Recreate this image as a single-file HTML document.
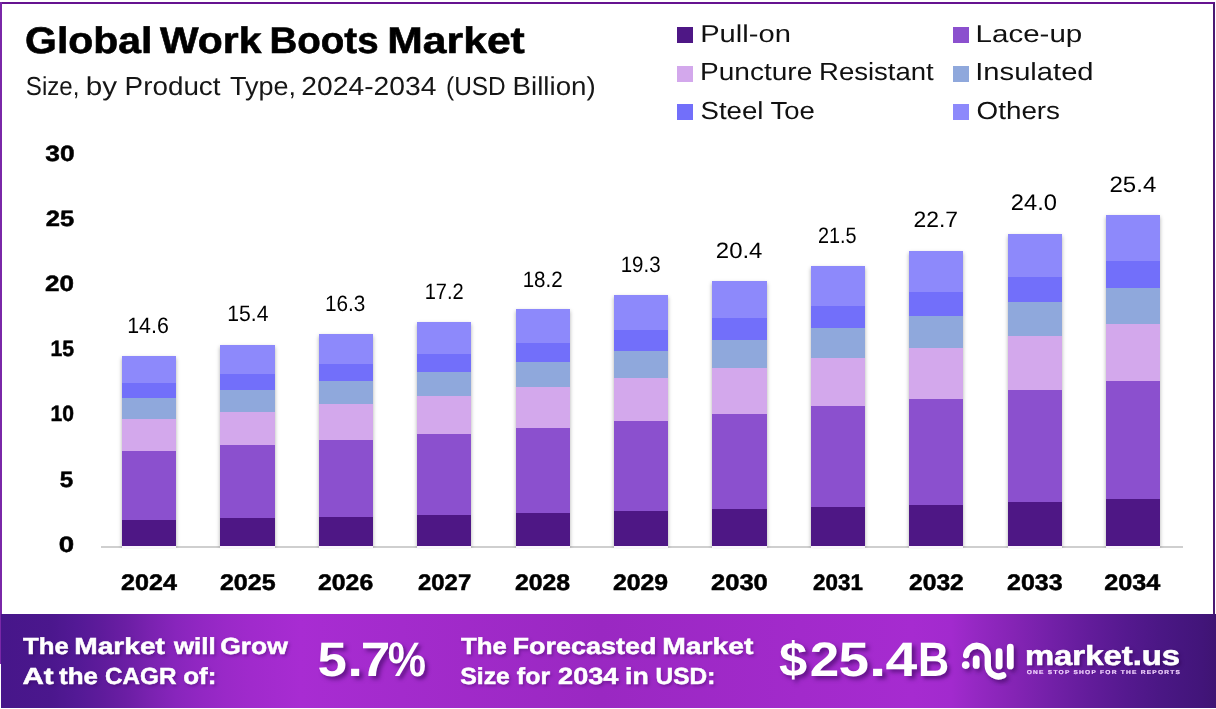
<!DOCTYPE html><html lang="en"><head><meta charset="utf-8"><title>Global Work Boots Market</title><style>
html,body,h1,p{margin:0;padding:0}
h1,p{font-size:inherit;font-weight:inherit}
body{width:1216px;height:709px;position:relative;overflow:hidden;background:#fff;font-family:"Liberation Sans", Arial, sans-serif;}
.t{position:absolute;left:0;top:0;white-space:pre;text-rendering:geometricPrecision;line-height:1;transform-origin:0 0;font-weight:400;}
.p{display:inline-block;width:0;height:0}
.frame{position:absolute;left:0;top:2px;width:1215px;height:612px;box-sizing:border-box;border:2px solid #651390;border-left-color:#7a27a8;border-right-color:#4b1a72;border-bottom:0}
.lb{position:absolute;left:0;top:2px;width:2px;height:662px;background:#7a27a8}
.sw{position:absolute;width:16px;height:16px}
.bar{position:absolute;box-shadow:0 2px 4px rgba(0,0,0,.32);clip-path:inset(-8px -8px -2px -8px)}
.bar:after{content:"";position:absolute;left:0;right:0;top:100%;height:2px;background:#fbf4fd}
.bar div{position:absolute;left:0;width:100%}
.axis{position:absolute;left:100.5px;top:546px;width:1082px;height:1.5px;background:#cfcfcf}
.footer{position:absolute;left:1px;top:614px;width:1215px;height:93.5px;background:linear-gradient(90deg,#47168a 0.0%,#4b178d 4.1%,#531995 6.2%,#5e1b9b 8.2%,#6b1ea4 10.3%,#7a22b0 12.3%,#8825bc 14.4%,#9227c3 16.5%,#9a29c8 18.5%,#a02acc 20.6%,#a82cd2 24.7%,#a32bcc 33.0%,#9a28c2 49.4%,#a22acb 65.8%,#a62bd0 75.0%,#a22ace 78.2%,#9528c3 80.2%,#8524b5 83.3%,#7320a8 86.4%,#631c9b 89.5%,#55198f 92.6%,#4a1784 95.6%,#42157a 98.8%,#3f1473 100.0%)}

</style></head><body>
<div class="frame"></div><div class="lb"></div>
<header>
<h1><span class="t" id="t0" style="font-size:37.04px;transform:translate(25.08px,21.70px) scaleX(1.1045);color:#000;font-weight:700;-webkit-text-stroke:0.59px;">Global</span> <span class="t" id="t1" style="font-size:37.04px;transform:translate(160.01px,21.70px) scaleX(1.1037);color:#000;font-weight:700;-webkit-text-stroke:0.59px;">Work</span> <span class="t" id="t2" style="font-size:37.04px;transform:translate(269.50px,21.70px) scaleX(1.0400);color:#000;font-weight:700;-webkit-text-stroke:0.59px;">Boots</span> <span class="t" id="t3" style="font-size:37.04px;transform:translate(387.27px,21.70px) scaleX(1.1522);color:#000;font-weight:700;-webkit-text-stroke:0.59px;">Market</span></h1>
<p><span class="t" id="t4" style="font-size:26.02px;transform:translate(25.84px,72.90px) scaleX(0.9273);color:#161616;">Size,</span> <span class="t" id="t5" style="font-size:26.02px;transform:translate(85.78px,72.90px) scaleX(1.1399);color:#161616;">by</span> <span class="t" id="t6" style="font-size:26.02px;transform:translate(124.60px,72.90px) scaleX(1.0696);color:#161616;">Product</span> <span class="t" id="t7" style="font-size:26.02px;transform:translate(229.97px,72.90px) scaleX(1.0384);color:#161616;">Type,</span> <span class="t" id="t8" style="font-size:26.02px;transform:translate(301.37px,72.90px) scaleX(1.0848);color:#161616;">2024-2034</span> <span class="t" id="t9" style="font-size:26.02px;transform:translate(446.04px,72.90px) scaleX(0.9393);color:#161616;">(USD</span> <span class="t" id="t10" style="font-size:26.02px;transform:translate(512.56px,72.90px) scaleX(1.0651);color:#161616;">Billion)</span></p>
</header>
<div class="legend">
<div class="li"><i class="sw" style="left:677px;top:27px;background:#4e1785"></i><span class="t" id="t11" style="font-size:24.42px;transform:translate(700.19px,22.80px) scaleX(1.1937);color:#111;">Pull-on</span></div>
<div class="li"><i class="sw" style="left:953px;top:27px;background:#8b50ce"></i><span class="t" id="t16" style="font-size:24.42px;transform:translate(975.59px,22.80px) scaleX(1.2097);color:#111;">Lace-up</span></div>
<div class="li"><i class="sw" style="left:677px;top:65.7px;background:#d3a8ec"></i><span class="t" id="t12" style="font-size:24.71px;transform:translate(700.00px,61.00px) scaleX(1.1351);color:#111;">Puncture</span> <span class="t" id="t13" style="font-size:24.71px;transform:translate(819.06px,61.00px) scaleX(1.1139);color:#111;">Resistant</span></div>
<div class="li"><i class="sw" style="left:953px;top:65.7px;background:#8fa8dc"></i><span class="t" id="t17" style="font-size:24.71px;transform:translate(975.24px,61.00px) scaleX(1.1801);color:#111;">Insulated</span></div>
<div class="li"><i class="sw" style="left:677px;top:103.7px;background:#726ffa"></i><span class="t" id="t14" style="font-size:24.71px;transform:translate(700.48px,99.80px) scaleX(1.1168);color:#111;">Steel</span> <span class="t" id="t15" style="font-size:24.71px;transform:translate(770.40px,99.80px) scaleX(1.1132);color:#111;">Toe</span></div>
<div class="li"><i class="sw" style="left:953px;top:103.7px;background:#8d89fb"></i><span class="t" id="t18" style="font-size:24.71px;transform:translate(976.57px,99.80px) scaleX(1.1254);color:#111;">Others</span></div>
</div>
<div class="chart">
<div class="yaxis"><span class="t" id="t19" style="font-size:22.19px;transform:translate(45.24px,142.64px) scaleX(1.1869);color:#000;font-weight:700;-webkit-text-stroke:0.49px;">30</span> <span class="t" id="t20" style="font-size:22.19px;transform:translate(45.69px,207.84px) scaleX(1.1513);color:#000;font-weight:700;-webkit-text-stroke:0.49px;">25</span> <span class="t" id="t21" style="font-size:22.19px;transform:translate(45.10px,273.04px) scaleX(1.1740);color:#000;font-weight:700;-webkit-text-stroke:0.49px;">20</span> <span class="t" id="t22" style="font-size:22.19px;transform:translate(50.57px,338.24px) scaleX(0.9549);color:#000;font-weight:700;-webkit-text-stroke:0.49px;">15</span> <span class="t" id="t23" style="font-size:22.19px;transform:translate(50.50px,403.44px) scaleX(0.9512);color:#000;font-weight:700;-webkit-text-stroke:0.49px;">10</span> <span class="t" id="t24" style="font-size:22.19px;transform:translate(59.68px,468.64px) scaleX(1.0884);color:#000;font-weight:700;-webkit-text-stroke:0.49px;">5</span> <span class="t" id="t25" style="font-size:22.19px;transform:translate(58.82px,533.84px) scaleX(1.2479);color:#000;font-weight:700;-webkit-text-stroke:0.49px;">0</span></div>
<div class="axis"></div>
<div class="col">
<span class="t" id="t26" style="font-size:22.32px;transform:translate(127.21px,314.58px) scaleX(0.9574);color:#000;">14.6</span>
<div class="bar" style="left:122.00px;top:355.80px;width:54.3px;height:190.40px">
<div style="bottom:0.00px;height:26.67px;background:#4e1785"></div>
<div style="bottom:26.27px;height:69.68px;background:#8b50ce"></div>
<div style="bottom:95.55px;height:32.09px;background:#d3a8ec"></div>
<div style="bottom:127.25px;height:21.55px;background:#8fa8dc"></div>
<div style="bottom:148.40px;height:15.64px;background:#726ffa"></div>
<div style="bottom:163.63px;height:26.77px;background:#8d89fb"></div>
</div>
<span class="t" id="t37" style="font-size:22.60px;transform:translate(121.05px,571.73px) scaleX(1.1115);color:#000;font-weight:700;-webkit-text-stroke:0.50px;">2024</span>
</div>
<div class="col">
<span class="t" id="t27" style="font-size:22.32px;transform:translate(227.32px,303.38px) scaleX(0.9465);color:#000;">15.4</span>
<div class="bar" style="left:220.40px;top:345.30px;width:54.3px;height:200.90px">
<div style="bottom:0.00px;height:28.17px;background:#4e1785"></div>
<div style="bottom:27.77px;height:73.33px;background:#8b50ce"></div>
<div style="bottom:100.71px;height:34.07px;background:#d3a8ec"></div>
<div style="bottom:134.38px;height:22.57px;background:#8fa8dc"></div>
<div style="bottom:156.55px;height:16.47px;background:#726ffa"></div>
<div style="bottom:172.63px;height:28.27px;background:#8d89fb"></div>
</div>
<span class="t" id="t38" style="font-size:22.60px;transform:translate(219.96px,571.73px) scaleX(1.1068);color:#000;font-weight:700;-webkit-text-stroke:0.50px;">2025</span>
</div>
<div class="col">
<span class="t" id="t28" style="font-size:22.18px;transform:translate(324.92px,292.78px) scaleX(0.9348);color:#000;">16.3</span>
<div class="bar" style="left:318.80px;top:334.00px;width:54.3px;height:212.20px">
<div style="bottom:0.00px;height:29.79px;background:#4e1785"></div>
<div style="bottom:29.39px;height:77.26px;background:#8b50ce"></div>
<div style="bottom:106.25px;height:36.22px;background:#d3a8ec"></div>
<div style="bottom:142.06px;height:23.66px;background:#8fa8dc"></div>
<div style="bottom:165.32px;height:17.38px;background:#726ffa"></div>
<div style="bottom:182.30px;height:29.90px;background:#8d89fb"></div>
</div>
<span class="t" id="t39" style="font-size:22.60px;transform:translate(318.05px,571.73px) scaleX(1.0968);color:#000;font-weight:700;-webkit-text-stroke:0.50px;">2026</span>
</div>
<div class="col">
<span class="t" id="t29" style="font-size:22.32px;transform:translate(424.72px,280.98px) scaleX(0.8978);color:#000;">17.2</span>
<div class="bar" style="left:417.20px;top:322.20px;width:54.3px;height:224.00px">
<div style="bottom:0.00px;height:31.48px;background:#4e1785"></div>
<div style="bottom:31.08px;height:81.34px;background:#8b50ce"></div>
<div style="bottom:112.02px;height:38.47px;background:#d3a8ec"></div>
<div style="bottom:150.09px;height:24.79px;background:#8fa8dc"></div>
<div style="bottom:174.48px;height:18.32px;background:#726ffa"></div>
<div style="bottom:192.40px;height:31.60px;background:#8d89fb"></div>
</div>
<span class="t" id="t40" style="font-size:22.60px;transform:translate(418.03px,571.73px) scaleX(1.0571);color:#000;font-weight:700;-webkit-text-stroke:0.50px;">2027</span>
</div>
<div class="col">
<span class="t" id="t30" style="font-size:22.32px;transform:translate(522.64px,268.58px) scaleX(0.9205);color:#000;">18.2</span>
<div class="bar" style="left:515.60px;top:309.20px;width:54.3px;height:237.00px">
<div style="bottom:0.00px;height:33.35px;background:#4e1785"></div>
<div style="bottom:32.95px;height:85.84px;background:#8b50ce"></div>
<div style="bottom:118.39px;height:40.96px;background:#d3a8ec"></div>
<div style="bottom:158.94px;height:26.03px;background:#8fa8dc"></div>
<div style="bottom:184.57px;height:19.36px;background:#726ffa"></div>
<div style="bottom:203.53px;height:33.47px;background:#8d89fb"></div>
</div>
<span class="t" id="t41" style="font-size:22.60px;transform:translate(514.93px,571.73px) scaleX(1.0980);color:#000;font-weight:700;-webkit-text-stroke:0.50px;">2028</span>
</div>
<div class="col">
<span class="t" id="t31" style="font-size:22.32px;transform:translate(620.71px,254.18px) scaleX(0.9164);color:#000;">19.3</span>
<div class="bar" style="left:614.00px;top:294.90px;width:54.3px;height:251.30px">
<div style="bottom:0.00px;height:35.40px;background:#4e1785"></div>
<div style="bottom:35.00px;height:90.78px;background:#8b50ce"></div>
<div style="bottom:125.39px;height:43.69px;background:#d3a8ec"></div>
<div style="bottom:168.68px;height:27.39px;background:#8fa8dc"></div>
<div style="bottom:195.67px;height:20.50px;background:#726ffa"></div>
<div style="bottom:215.77px;height:35.53px;background:#8d89fb"></div>
</div>
<span class="t" id="t42" style="font-size:22.60px;transform:translate(612.97px,571.73px) scaleX(1.0969);color:#000;font-weight:700;-webkit-text-stroke:0.50px;">2029</span>
</div>
<div class="col">
<span class="t" id="t32" style="font-size:22.18px;transform:translate(715.83px,240.28px) scaleX(1.0799);color:#000;">20.4</span>
<div class="bar" style="left:712.40px;top:280.90px;width:54.3px;height:265.30px">
<div style="bottom:0.00px;height:37.45px;background:#4e1785"></div>
<div style="bottom:37.05px;height:95.78px;background:#8b50ce"></div>
<div style="bottom:132.42px;height:46.07px;background:#d3a8ec"></div>
<div style="bottom:178.09px;height:28.98px;background:#8fa8dc"></div>
<div style="bottom:206.67px;height:21.69px;background:#726ffa"></div>
<div style="bottom:227.97px;height:37.33px;background:#8d89fb"></div>
</div>
<span class="t" id="t43" style="font-size:22.60px;transform:translate(710.99px,571.73px) scaleX(1.1303);color:#000;font-weight:700;-webkit-text-stroke:0.50px;">2030</span>
</div>
<div class="col">
<span class="t" id="t33" style="font-size:22.32px;transform:translate(818.04px,225.18px) scaleX(0.8881);color:#000;">21.5</span>
<div class="bar" style="left:810.80px;top:266.40px;width:54.3px;height:279.80px">
<div style="bottom:0.00px;height:39.57px;background:#4e1785"></div>
<div style="bottom:39.17px;height:100.94px;background:#8b50ce"></div>
<div style="bottom:139.72px;height:48.53px;background:#d3a8ec"></div>
<div style="bottom:187.84px;height:30.64px;background:#8fa8dc"></div>
<div style="bottom:218.08px;height:22.93px;background:#726ffa"></div>
<div style="bottom:240.61px;height:39.19px;background:#8d89fb"></div>
</div>
<span class="t" id="t44" style="font-size:22.60px;transform:translate(813.07px,571.73px) scaleX(0.9907);color:#000;font-weight:700;-webkit-text-stroke:0.50px;">2031</span>
</div>
<div class="col">
<span class="t" id="t34" style="font-size:22.32px;transform:translate(913.48px,208.78px) scaleX(1.0255);color:#000;">22.7</span>
<div class="bar" style="left:909.20px;top:250.70px;width:54.3px;height:295.50px">
<div style="bottom:0.00px;height:41.88px;background:#4e1785"></div>
<div style="bottom:41.48px;height:106.54px;background:#8b50ce"></div>
<div style="bottom:147.62px;height:51.19px;background:#d3a8ec"></div>
<div style="bottom:198.40px;height:32.43px;background:#8fa8dc"></div>
<div style="bottom:230.44px;height:24.27px;background:#726ffa"></div>
<div style="bottom:254.31px;height:41.19px;background:#8d89fb"></div>
</div>
<span class="t" id="t45" style="font-size:22.60px;transform:translate(909.05px,571.73px) scaleX(1.0896);color:#000;font-weight:700;-webkit-text-stroke:0.50px;">2032</span>
</div>
<div class="col">
<span class="t" id="t35" style="font-size:22.46px;transform:translate(1010.85px,191.68px) scaleX(1.0560);color:#000;">24.0</span>
<div class="bar" style="left:1007.60px;top:233.60px;width:54.3px;height:312.60px">
<div style="bottom:0.00px;height:44.39px;background:#4e1785"></div>
<div style="bottom:43.99px;height:112.63px;background:#8b50ce"></div>
<div style="bottom:156.22px;height:54.08px;background:#d3a8ec"></div>
<div style="bottom:209.90px;height:34.39px;background:#8fa8dc"></div>
<div style="bottom:243.90px;height:25.73px;background:#726ffa"></div>
<div style="bottom:269.23px;height:43.37px;background:#8d89fb"></div>
</div>
<span class="t" id="t46" style="font-size:22.60px;transform:translate(1007.12px,571.73px) scaleX(1.1040);color:#000;font-weight:700;-webkit-text-stroke:0.50px;">2033</span>
</div>
<div class="col">
<span class="t" id="t36" style="font-size:22.32px;transform:translate(1109.48px,173.88px) scaleX(1.0778);color:#000;">25.4</span>
<div class="bar" style="left:1106.00px;top:215.10px;width:54.3px;height:331.10px">
<div style="bottom:0.00px;height:47.11px;background:#4e1785"></div>
<div style="bottom:46.71px;height:119.22px;background:#8b50ce"></div>
<div style="bottom:165.53px;height:57.21px;background:#d3a8ec"></div>
<div style="bottom:222.34px;height:36.52px;background:#8fa8dc"></div>
<div style="bottom:258.46px;height:27.32px;background:#726ffa"></div>
<div style="bottom:285.38px;height:45.72px;background:#8d89fb"></div>
</div>
<span class="t" id="t47" style="font-size:22.60px;transform:translate(1104.22px,571.73px) scaleX(1.1161);color:#000;font-weight:700;-webkit-text-stroke:0.50px;">2034</span>
</div>
</div>
<footer>
<div class="footer"></div>
<p><span class="t" id="t48" style="font-size:23.24px;transform:translate(22.98px,635.25px) scaleX(1.1075);color:#fff;font-weight:700;-webkit-text-stroke:0.51px;text-shadow:1.5px 1.5px 3px rgba(45,0,80,.4);">The</span> <span class="t" id="t49" style="font-size:23.24px;transform:translate(74.21px,635.25px) scaleX(1.2122);color:#fff;font-weight:700;-webkit-text-stroke:0.51px;text-shadow:1.5px 1.5px 3px rgba(45,0,80,.4);">Market</span> <span class="t" id="t50" style="font-size:23.24px;transform:translate(173.89px,635.25px) scaleX(1.1141);color:#fff;font-weight:700;-webkit-text-stroke:0.51px;text-shadow:1.5px 1.5px 3px rgba(45,0,80,.4);">will</span> <span class="t" id="t51" style="font-size:23.24px;transform:translate(220.15px,635.25px) scaleX(1.1396);color:#fff;font-weight:700;-webkit-text-stroke:0.51px;text-shadow:1.5px 1.5px 3px rgba(45,0,80,.4);">Grow</span> <span class="t" id="t52" style="font-size:23.24px;transform:translate(22.41px,665.25px) scaleX(1.2757);color:#fff;font-weight:700;-webkit-text-stroke:0.51px;text-shadow:1.5px 1.5px 3px rgba(45,0,80,.4);">At</span> <span class="t" id="t53" style="font-size:23.24px;transform:translate(58.98px,665.25px) scaleX(1.1179);color:#fff;font-weight:700;-webkit-text-stroke:0.51px;text-shadow:1.5px 1.5px 3px rgba(45,0,80,.4);">the</span> <span class="t" id="t54" style="font-size:23.24px;transform:translate(105.08px,665.25px) scaleX(1.0424);color:#fff;font-weight:700;-webkit-text-stroke:0.51px;text-shadow:1.5px 1.5px 3px rgba(45,0,80,.4);">CAGR</span> <span class="t" id="t55" style="font-size:23.24px;transform:translate(183.17px,665.25px) scaleX(1.1206);color:#fff;font-weight:700;-webkit-text-stroke:0.51px;text-shadow:1.5px 1.5px 3px rgba(45,0,80,.4);">of:</span></p>
<div class="big"><span class="t" id="t64" style="font-size:48.36px;transform:translate(317.54px,636.30px) scaleX(1.0908);color:#fff;font-weight:700;text-shadow:3px 3px 4px rgba(45,0,80,.55);">5</span><span class="t" id="t65" style="font-size:48.36px;transform:translate(347.14px,636.30px) scaleX(1.1763);color:#fff;font-weight:700;text-shadow:3px 3px 4px rgba(45,0,80,.55);">.</span><span class="t" id="t66" style="font-size:48.36px;transform:translate(360.70px,636.30px) scaleX(1.1012);color:#fff;font-weight:700;text-shadow:3px 3px 4px rgba(45,0,80,.55);">7</span><span class="t" id="t67" style="font-size:48.36px;transform:translate(387.82px,636.30px) scaleX(0.8911);color:#fff;font-weight:700;text-shadow:3px 3px 4px rgba(45,0,80,.55);">%</span></div>
<p><span class="t" id="t56" style="font-size:23.24px;transform:translate(460.95px,635.25px) scaleX(1.1102);color:#fff;font-weight:700;-webkit-text-stroke:0.51px;text-shadow:1.5px 1.5px 3px rgba(45,0,80,.4);">The</span> <span class="t" id="t57" style="font-size:23.24px;transform:translate(512.43px,635.25px) scaleX(1.1626);color:#fff;font-weight:700;-webkit-text-stroke:0.51px;text-shadow:1.5px 1.5px 3px rgba(45,0,80,.4);">Forecasted</span> <span class="t" id="t58" style="font-size:23.24px;transform:translate(662.19px,635.25px) scaleX(1.2185);color:#fff;font-weight:700;-webkit-text-stroke:0.51px;text-shadow:1.5px 1.5px 3px rgba(45,0,80,.4);">Market</span> <span class="t" id="t59" style="font-size:23.24px;transform:translate(460.18px,665.25px) scaleX(1.0689);color:#fff;font-weight:700;-webkit-text-stroke:0.51px;text-shadow:1.5px 1.5px 3px rgba(45,0,80,.4);">Size</span> <span class="t" id="t60" style="font-size:23.24px;transform:translate(516.82px,665.25px) scaleX(1.0755);color:#fff;font-weight:700;-webkit-text-stroke:0.51px;text-shadow:1.5px 1.5px 3px rgba(45,0,80,.4);">for</span> <span class="t" id="t61" style="font-size:23.24px;transform:translate(558.04px,665.25px) scaleX(1.1687);color:#fff;font-weight:700;-webkit-text-stroke:0.51px;text-shadow:1.5px 1.5px 3px rgba(45,0,80,.4);">2034</span> <span class="t" id="t62" style="font-size:23.24px;transform:translate(625.02px,665.25px) scaleX(1.1472);color:#fff;font-weight:700;-webkit-text-stroke:0.51px;text-shadow:1.5px 1.5px 3px rgba(45,0,80,.4);">in</span> <span class="t" id="t63" style="font-size:23.24px;transform:translate(655.61px,665.25px) scaleX(1.0521);color:#fff;font-weight:700;-webkit-text-stroke:0.51px;text-shadow:1.5px 1.5px 3px rgba(45,0,80,.4);">USD:</span></p>
<div class="big"><span class="t" id="t68" style="font-size:48.36px;transform:translate(779.03px,636.00px) scaleX(1.0500);color:#fff;font-weight:700;text-shadow:3px 3px 4px rgba(45,0,80,.55);">$</span><span class="t" id="t69" style="font-size:48.36px;transform:translate(809.74px,636.00px) scaleX(1.0966);color:#fff;font-weight:700;text-shadow:3px 3px 4px rgba(45,0,80,.55);">2</span><span class="t" id="t70" style="font-size:48.36px;transform:translate(838.45px,636.00px) scaleX(1.1332);color:#fff;font-weight:700;text-shadow:3px 3px 4px rgba(45,0,80,.55);">5</span><span class="t" id="t71" style="font-size:48.36px;transform:translate(868.71px,636.00px) scaleX(1.3235);color:#fff;font-weight:700;text-shadow:3px 3px 4px rgba(45,0,80,.55);">.</span><span class="t" id="t72" style="font-size:48.36px;transform:translate(885.60px,636.00px) scaleX(1.1803);color:#fff;font-weight:700;text-shadow:3px 3px 4px rgba(45,0,80,.55);">4</span><span class="t" id="t73" style="font-size:48.36px;transform:translate(918.10px,636.00px) scaleX(0.8936);color:#fff;font-weight:700;text-shadow:3px 3px 4px rgba(45,0,80,.55);">B</span></div>
<div class="brand">
<svg style="position:absolute;left:950px;top:630px;overflow:visible" width="80" height="60" viewBox="950 630 80 60">
<defs><filter id="ds" x="-20%" y="-20%" width="150%" height="150%"><feDropShadow dx="2.5" dy="3" stdDeviation="2" flood-color="#2d0050" flood-opacity=".55"/></filter></defs>
<g filter="url(#ds)" fill="none" stroke="#fff" stroke-width="6.7" stroke-linecap="round">
<circle cx="965.7" cy="665.1" r="3.8" fill="#fff" stroke="none"/>
<path stroke-width="6.3" d="M966.1 655.2A10.9 10.9 0 0 1 987.8 656.9L987.8 665.6A10.8 10.8 0 0 0 1003.1 675.4"/>
<path d="M976.2 658.9V665.5"/><path d="M999.1 651.7V665.9"/><path d="M1010.3 647V665.9"/>
</g></svg>
<span class="t" id="t74" style="font-size:27.65px;transform:translate(1024.88px,641.60px) scaleX(1.1886);color:#fff;font-weight:700;-webkit-text-stroke:0.61px;text-shadow:2px 2px 3px rgba(45,0,80,.5);">market.us</span>
<span class="t" id="t75" style="font-size:5.63px;transform:translate(1026.70px,671.14px) scaleX(1.1727);color:#f3d6ff;font-weight:700;-webkit-text-stroke:0.17px;letter-spacing:1.05px;">ONE STOP SHOP FOR THE REPORTS</span>
</div>
</footer>
</body></html>
